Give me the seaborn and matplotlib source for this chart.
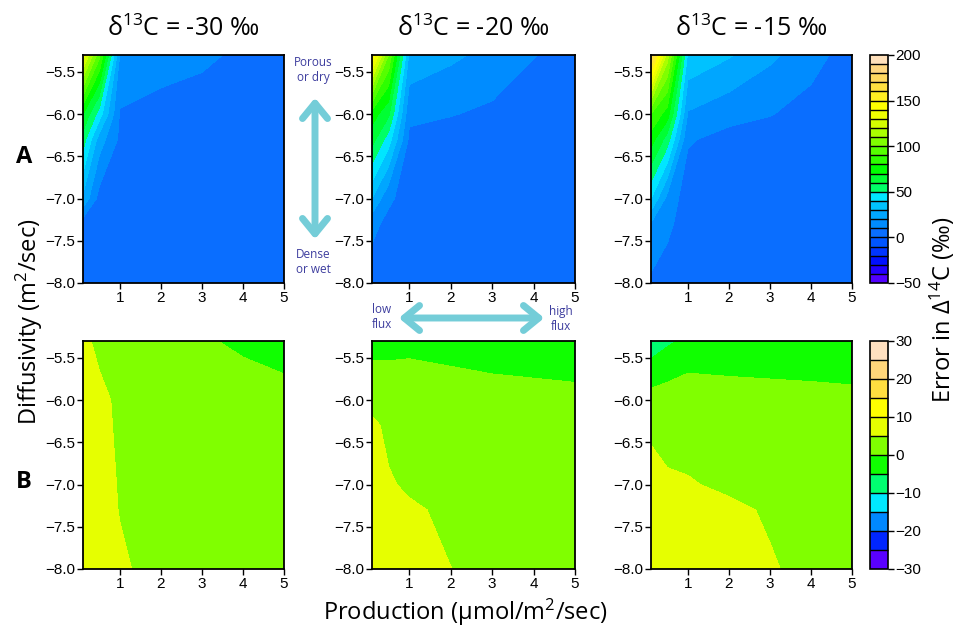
import numpy as np
import matplotlib
matplotlib.use("Agg")
import matplotlib.pyplot as plt
import seaborn as sns
from matplotlib.patches import FancyArrowPatch

# Grid of the model runs: soil CO2 production and log10 diffusivity
production = [0.1, 0.5, 1, 2, 3, 4, 5]
log_diffusivity = [-8.0, -7.3, -7.0, -6.3, -6.0, -5.3]
delta13c = ["-30", "-20", "-15"]

# Row A: error in D14C (permil), rows follow log_diffusivity, columns follow production
err_a_m30 = [
    [4, 4, 4, 4, 4, 4, 4],
    [4, 4, 4, 4, 4, 4, 4],
    [28, 6, 5, 4, 4, 4, 4],
    [55, 25, 8, 5, 4, 4, 4],
    [70, 45, 9, 6, 4, 4, 4],
    [135, 93, 19, 15, 12.5, 7.5, 6],
]
err_a_m20 = [
    [4, 4, 4, 4, 4, 4, 4],
    [13, 7, 4.5, 4, 4, 4, 4],
    [30, 12, 5, 4, 4, 4, 4],
    [64, 45, 8, 5.5, 5, 4.5, 4.5],
    [75, 62, 12, 10.5, 8, 6, 5],
    [150, 100, 28, 22, 17, 10.3, 7],
]
err_a_m15 = [
    [8, 5, 4, 4, 4, 4, 4],
    [19, 12.4, 4.5, 4, 4, 4, 4],
    [40, 16.5, 4.5, 4, 4, 4, 4],
    [75, 55, 11, 6.5, 5, 4, 4],
    [90, 75, 19, 13.5, 10.5, 6, 4],
    [175, 115, 38, 31, 22, 14, 5],
]

# Row B: error in D14C (permil) for the corrected estimate
err_b_m30 = [
    [7, 6.5, 5.4, 4, 4, 4, 4],
    [7, 6, 4.9, 4, 4, 4, 4],
    [7, 6, 4.8, 4, 4, 4, 4],
    [7, 6.4, 4.2, 4, 4, 4, 4],
    [7, 6, 4.2, 4, 4, 4, 2.4],
    [6, 4, 3.5, 2, 1.0, -1.5, -3],
]
err_b_m20 = [
    [7.5, 7, 6, 5.05, 4, 4, 4],
    [7.5, 6.5, 5.75, 4, 4, 3.5, 3.5],
    [7, 5.53, 4.2, 4, 3.5, 3.5, 3.5],
    [6.2, 3.8, 3.8, 3.5, 3, 3, 2.8],
    [3, 3, 3.5, 3.33, 2.39, 2.07, 1.71],
    [-1.5, -1.5, -1.5, -2.5, -3, -3.5, -4],
]
err_b_m15 = [
    [7.3, 7, 7, 6.5, 5.24, 4.3, 4],
    [7, 6.8, 6.5, 5.56, 4.7, 4, 4],
    [6.6, 5.6, 5.22, 4.5, 4, 4, 4],
    [4.2, 3.5, 3.8, 3.5, 3, 2.8, 2.6],
    [2, 2.5, 3.37, 2.67, 2.22, 1.83, 1.56],
    [-8, -5.8, -4, -4, -4, -4, -4.5],
]

levels_a = np.arange(-50, 201, 10)
colors_a = [
    "#5200ff", "#2200ff", "#0010ff", "#0035ff", "#0055ff",
    "#0a6eff", "#008cff", "#00a6ff", "#00c2ff", "#00e6ff",
    "#00ff66", "#00ff33", "#00ff00", "#2eff00", "#55ff00",
    "#80ff00", "#aaff00", "#d4ff00", "#eeff00", "#ffff00",
    "#ffee22", "#ffe040", "#ffd860", "#ffd680", "#ffe0bb",
]
ticks_a = [-50, 0, 50, 100, 150, 200]

levels_b = np.arange(-30, 31, 5)
colors_b = [
    "#5a00ff", "#0026ff", "#0088ff", "#00e8ff", "#00ff70", "#10ff00",
    "#80ff00", "#e6ff00", "#ffff00", "#ffde40", "#ffd67a", "#ffe0c0",
]
ticks_b = [-30, -20, -10, 0, 10, 20, 30]

sns.set_theme(style="ticks")
plt.rcParams["font.family"] = ["Liberation Sans", "DejaVu Sans"]
plt.rcParams["mathtext.fontset"] = "custom"
plt.rcParams["mathtext.rm"] = "Open Sans"
plt.rcParams["mathtext.it"] = "Open Sans:italic"
plt.rcParams["mathtext.bf"] = "Open Sans:bold"
plt.rcParams["axes.edgecolor"] = "black"
plt.rcParams["text.color"] = "black"
plt.rcParams["axes.labelcolor"] = "black"
plt.rcParams["xtick.color"] = "black"
plt.rcParams["ytick.color"] = "black"
plt.rcParams["xtick.labelcolor"] = "black"
plt.rcParams["ytick.labelcolor"] = "black"

label_font = ["Open Sans", "DejaVu Sans"]
note_color = "#3d3d9e"
arrow_color = "#74cdd8"

W, H = 957, 630
fig = plt.figure(figsize=(W / 100, H / 100), dpi=100)


def rect(left, top, right, bottom):
    return [left / W, 1 - bottom / H, (right - left) / W, (bottom - top) / H]


def fxy(px, py):
    return (px / W, 1 - py / H)


col_px = [(83, 284), (372, 575), (651, 852)]
row_px = [(55, 283), (341, 569)]
rows = [
    ([err_a_m30, err_a_m20, err_a_m15], levels_a, colors_a),
    ([err_b_m30, err_b_m20, err_b_m15], levels_b, colors_b),
]

X, Y = np.meshgrid(production, log_diffusivity)
for r, (grids, levels, colors) in enumerate(rows):
    top, bottom = row_px[r]
    cs_last = None
    for c, grid in enumerate(grids):
        left, right = col_px[c]
        ax = fig.add_axes(rect(left, top, right, bottom))
        cs_last = ax.contourf(X, Y, np.array(grid, dtype=float), levels=levels, colors=colors)
        ax.set_xlim(0.1, 5)
        ax.set_ylim(-8.0, -5.3)
        ax.set_xticks([1, 2, 3, 4, 5])
        ax.set_yticks([-8.0, -7.5, -7.0, -6.5, -6.0, -5.5])
        ax.tick_params(labelsize=11, length=4, width=1, direction="out", pad=1.5,
                       colors="black")
        for sp in ax.spines.values():
            sp.set_linewidth(1.3)
            sp.set_color("black")
        if r == 0:
            fig.text((left + right) / 2 / W, 1 - 29 / H,
                     "δ$\\mathregular{^{13}}$C = " + delta13c[c] + " ‰",
                     ha="center", va="center", fontsize=18, family=label_font,
                     color="black")
    cax = fig.add_axes(rect(870, top, 888, bottom))
    cb = fig.colorbar(cs_last, cax=cax, ticks=ticks_a if r == 0 else ticks_b, drawedges=True)
    cb.dividers.set_linewidth(1.0)
    cb.dividers.set_color("black")
    cb.outline.set_linewidth(1.2)
    cb.outline.set_edgecolor("black")
    cax.tick_params(labelsize=11, length=4, width=1, pad=1.5, colors="black")

# Row letters and shared axis labels
fig.text(24 / W, 1 - 157 / H, "A", ha="center", va="center", fontsize=17,
         fontweight="bold", family=label_font, color="black")
fig.text(24 / W, 1 - 482 / H, "B", ha="center", va="center", fontsize=17,
         fontweight="bold", family=label_font, color="black")
fig.text(29 / W, 1 - 322 / H, "Diffusivity (m$\\mathregular{^2}$/sec)", rotation=90,
         ha="center", va="center", fontsize=17, family=label_font, color="black")
fig.text(465 / W, 1 - 612 / H, "Production (μmol/m$\\mathregular{^2}$/sec)",
         ha="center", va="center", fontsize=17, family=label_font, color="black")
fig.text(942 / W, 1 - 310 / H, "Error in Δ$\\mathregular{^{14}}$C (‰)", rotation=90,
         ha="center", va="center", fontsize=17, family=label_font, color="black")

# Direction hints for soil porosity and flux
fig.add_artist(FancyArrowPatch(fxy(315, 95), fxy(315, 242), transform=fig.transFigure,
                               arrowstyle="<->,head_length=0.55,head_width=0.45",
                               mutation_scale=20, lw=5, color=arrow_color))
fig.add_artist(FancyArrowPatch(fxy(396, 318), fxy(547, 318), transform=fig.transFigure,
                               arrowstyle="<->,head_length=0.55,head_width=0.45",
                               mutation_scale=20, lw=5, color=arrow_color))
fig.text(313 / W, 1 - 70 / H, "Porous\nor dry", ha="center", va="center", fontsize=8.5,
         color=note_color, family=label_font, linespacing=1.2)
fig.text(313 / W, 1 - 262 / H, "Dense\nor wet", ha="center", va="center", fontsize=8.5,
         color=note_color, family=label_font, linespacing=1.2)
fig.text(382 / W, 1 - 317 / H, "low\nflux", ha="center", va="center", fontsize=8.5,
         color=note_color, family=label_font, linespacing=1.2)
fig.text(561 / W, 1 - 319 / H, "high\nflux", ha="center", va="center", fontsize=8.5,
         color=note_color, family=label_font, linespacing=1.2)

fig.savefig("out.png", dpi=100)
